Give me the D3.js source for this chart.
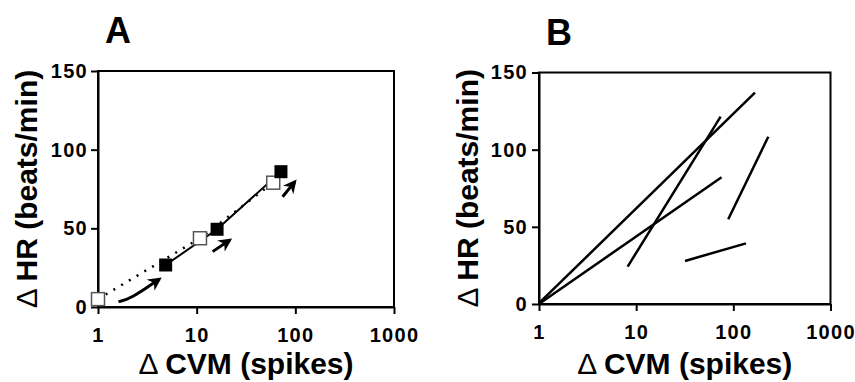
<!DOCTYPE html>
<html lang="en">
<head>
    <meta charset="UTF-8">
    <title>HR vs CVM</title>
    <script src="https://d3js.org/d3.v7.min.js"></script>
    <style>
        body { margin: 0; background: #fff; }
        text { font-family: "Liberation Sans", Arial, sans-serif; font-weight: bold; fill: #000; }
        .axis path, .axis line { stroke: #000; stroke-width: 2; }
        .axis text { font-size: 20px; letter-spacing: 1.3px; }
    </style>
</head>
<body>
<div id="chart"></div>
<script>
    // tick values shared by both panels
    const xTicks = [1, 10, 100, 1000];
    const yTicks = [0, 50, 100, 150];

    // panel A: open squares (dotted) and filled squares (solid)
    const openX = [1, 10.8, 59.7];
    const openY = [5, 43.7, 79];
    const filledX = [4.85, 16.1, 71.5];
    const filledY = [26.7, 49.4, 86];

    // panel A arrows, in data units
    const arrowA = [
        [[1.61, 3.4], [2.15, 5.2], [4.2, 17.8]],
        [[14.5, 35.2], [21.7, 42.6]],
        [[74.3, 70.1], [99, 79.7]]
    ];

    // panel B: individual regression lines
    const linesB = [
        [[1, 0.5], [167, 137]],
        [[1.05, 1], [75.7, 82.1]],
        [[8.17, 24.2], [74, 121.4]],
        [[88.6, 54.9], [229, 108.4]],
        [[31.8, 27.9], [135, 39.3]]
    ];

    const svg = d3.select('#chart').append('svg')
        .attr('width', 855)
        .attr('height', 382);

    svg.append('defs').append('marker')
        .attr('id', 'head')
        .attr('viewBox', '0 0 10 10')
        .attr('refX', 8).attr('refY', 5)
        .attr('markerWidth', 4.5).attr('markerHeight', 4.5)
        .attr('markerUnits', 'strokeWidth')
        .attr('orient', 'auto')
      .append('path')
        .attr('d', 'M0,0 L10,5 L0,10 L3,5 Z')
        .attr('fill', '#000');

    function panel(box, letter) {
        const x = d3.scaleLog().domain([1, 1000]).range([box.left, box.right]);
        const y = d3.scaleLinear().domain([0, 150]).range([box.bottom, box.top]);

        // frame
        svg.append('rect')
            .attr('x', box.left).attr('y', box.top)
            .attr('width', box.right - box.left)
            .attr('height', box.bottom - box.top)
            .attr('fill', 'none').attr('stroke', '#000').attr('stroke-width', 2);

        svg.append('g')
            .attr('class', 'axis')
            .attr('transform', `translate(0,${box.bottom})`)
            .call(d3.axisBottom(x).tickValues(xTicks).tickFormat(d3.format('d'))
                .tickSizeInner(7).tickSizeOuter(0).tickPadding(14));

        svg.append('g')
            .attr('class', 'axis')
            .attr('transform', `translate(${box.left},0)`)
            .call(d3.axisLeft(y).tickValues(yTicks)
                .tickSizeInner(7).tickSizeOuter(0).tickPadding(box.pad));

        // panel letter
        svg.append('text')
            .attr('x', box.left + 7).attr('y', box.letterY)
            .style('font-size', '36px')
            .text(letter);

        // axis titles
        const yt = svg.append('text')
            .attr('transform', `translate(${box.left - 61},${(box.top + box.bottom) / 2}) rotate(-90)`)
            .attr('text-anchor', 'middle')
            .style('font-size', '30px');
        yt.append('tspan').style('font-weight', 'normal').text('\u0394 ');
        yt.append('tspan').text('HR (beats/min)');

        const xt = svg.append('text')
            .attr('x', (box.left + box.right) / 2).attr('y', 374)
            .attr('text-anchor', 'middle')
            .style('font-size', '30px');
        xt.append('tspan').style('font-weight', 'normal').text('\u0394 ');
        xt.append('tspan').text('CVM (spikes)');

        return { x, y };
    }

    // ---- Panel A ----
    const A = panel({ left: 98, right: 394, top: 71, bottom: 307, pad: 3, letterY: 43 }, 'A');
    const lineA = d3.line().x(d => A.x(d[0])).y(d => A.y(d[1]));

    svg.append('path')
        .attr('d', lineA(openX.map((v, i) => [v, openY[i]])))
        .attr('fill', 'none').attr('stroke', '#000')
        .attr('stroke-width', 2.5).attr('stroke-dasharray', '2,7');

    svg.append('path')
        .attr('d', lineA(filledX.map((v, i) => [v, filledY[i]])))
        .attr('fill', 'none').attr('stroke', '#000').attr('stroke-width', 2);

    const sq = 13;
    svg.selectAll('.open')
        .data(openX.map((v, i) => [v, openY[i]]))
        .enter().append('rect')
        .attr('class', 'open')
        .attr('x', d => A.x(d[0]) - sq / 2).attr('y', d => A.y(d[1]) - sq / 2)
        .attr('width', sq).attr('height', sq)
        .attr('fill', '#fff').attr('stroke', '#555').attr('stroke-width', 1.5);

    svg.selectAll('.filled')
        .data(filledX.map((v, i) => [v, filledY[i]]))
        .enter().append('rect')
        .attr('class', 'filled')
        .attr('x', d => A.x(d[0]) - sq / 2).attr('y', d => A.y(d[1]) - sq / 2)
        .attr('width', sq).attr('height', sq)
        .attr('fill', '#000');

    const curveA = d3.line().x(d => A.x(d[0])).y(d => A.y(d[1])).curve(d3.curveBasis);
    svg.selectAll('.arrow')
        .data(arrowA)
        .enter().append('path')
        .attr('class', 'arrow')
        .attr('d', d => curveA(d))
        .attr('fill', 'none').attr('stroke', '#000').attr('stroke-width', 3)
        .attr('marker-end', 'url(#head)');

    // ---- Panel B ----
    const B = panel({ left: 539, right: 830.5, top: 72.5, bottom: 304, pad: 4, letterY: 45 }, 'B');
    const lineB = d3.line().x(d => B.x(d[0])).y(d => B.y(d[1]));

    svg.selectAll('.regB')
        .data(linesB)
        .enter().append('path')
        .attr('class', 'regB')
        .attr('d', d => lineB(d))
        .attr('fill', 'none').attr('stroke', '#000').attr('stroke-width', 2.5);
</script>
</body>
</html>
